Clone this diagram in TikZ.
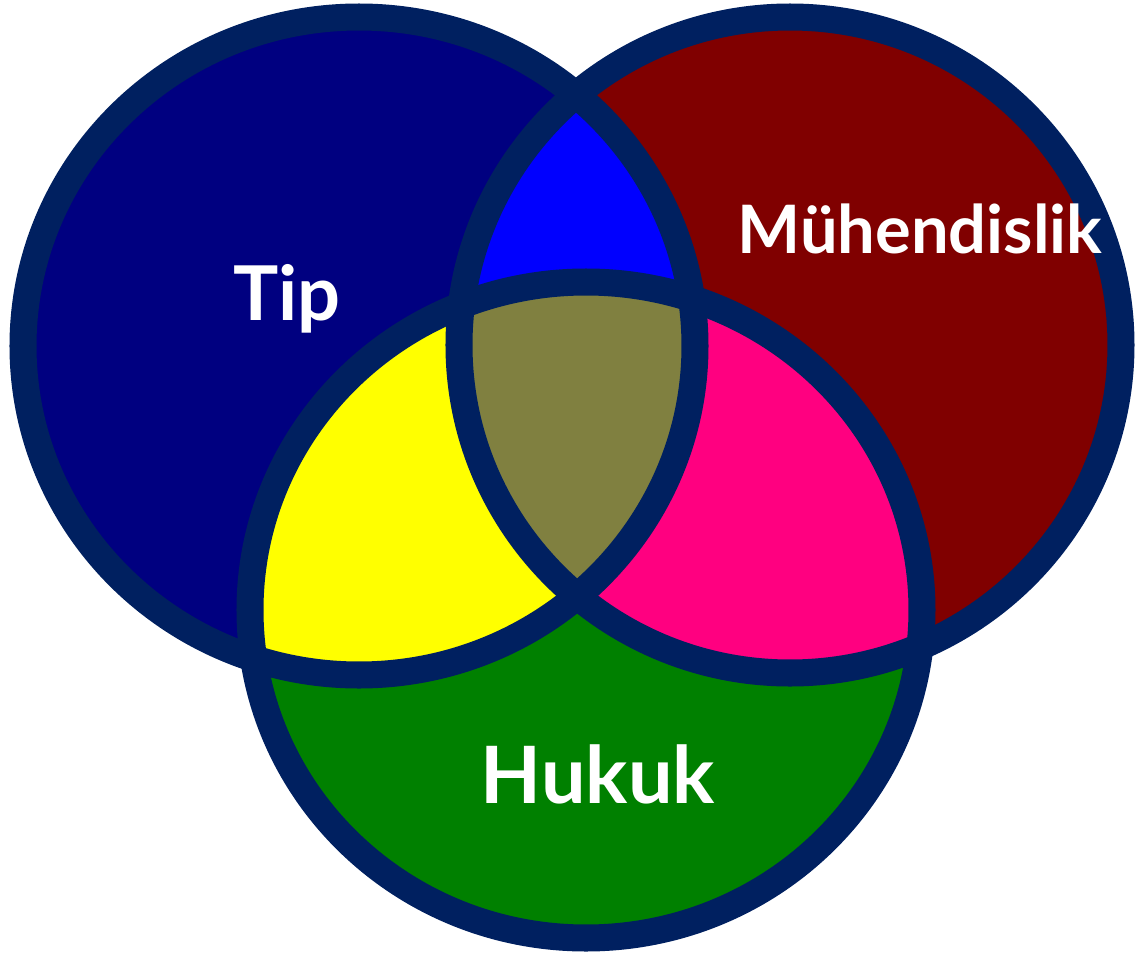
\documentclass[tikz,border=0pt]{standalone}
\usepackage{fontspec}
\setmainfont{Lato}
\definecolor{rim}{RGB}{0,32,96}
\definecolor{tipfill}{RGB}{0,0,128}
\definecolor{engfill}{RGB}{128,0,0}
\definecolor{lawfill}{RGB}{0,128,0}
\definecolor{tipeng}{RGB}{0,0,255}
\definecolor{tiplaw}{RGB}{255,255,0}
\definecolor{englaw}{RGB}{255,0,128}
\definecolor{allthree}{RGB}{128,128,64}
% the three sets, in pixel units
\newcommand\tipset{(359,346) ellipse [x radius=336, y radius=329]}
\newcommand\engset{(790,345) ellipse [x radius=331, y radius=328]}
\newcommand\lawset{(586,610) ellipse [x radius=336, y radius=328]}
\tikzset{
  ring/.style={draw=rim,line width=2.7mm},
  setname/.style={text=white,font=\bfseries,anchor=base,inner sep=0pt},
}

\begin{document}
\begin{tikzpicture}[x=0.01cm,y=-0.01cm]
  \useasboundingbox (0,0) rectangle (1135,954);
  % plain sets
  \fill[tipfill] \tipset;
  \fill[engfill] \engset;
  \fill[lawfill] \lawset;
  % pairwise overlaps
  \begin{scope} \clip \tipset; \fill[tipeng] \engset; \end{scope}
  \begin{scope} \clip \tipset; \fill[tiplaw] \lawset; \end{scope}
  \begin{scope} \clip \engset; \fill[englaw] \lawset; \end{scope}
  % all three
  \begin{scope} \clip \tipset; \clip \engset; \fill[allthree] \lawset; \end{scope}
  % outlines
  \draw[ring] \tipset;
  \draw[ring] \engset;
  \draw[ring] \lawset;
  % labels
  \node[setname,font=\bfseries\fontsize{21.5}{25}\selectfont] (tip) at (287,320) {Tip};
  \node[setname,font=\bfseries\fontsize{19}{22}\selectfont] (eng) at (920,253) {Mühendislik};
  \node[setname,font=\bfseries\fontsize{22.5}{27}\selectfont] (law) at (598,803) {Hukuk};
\end{tikzpicture}
\end{document}
